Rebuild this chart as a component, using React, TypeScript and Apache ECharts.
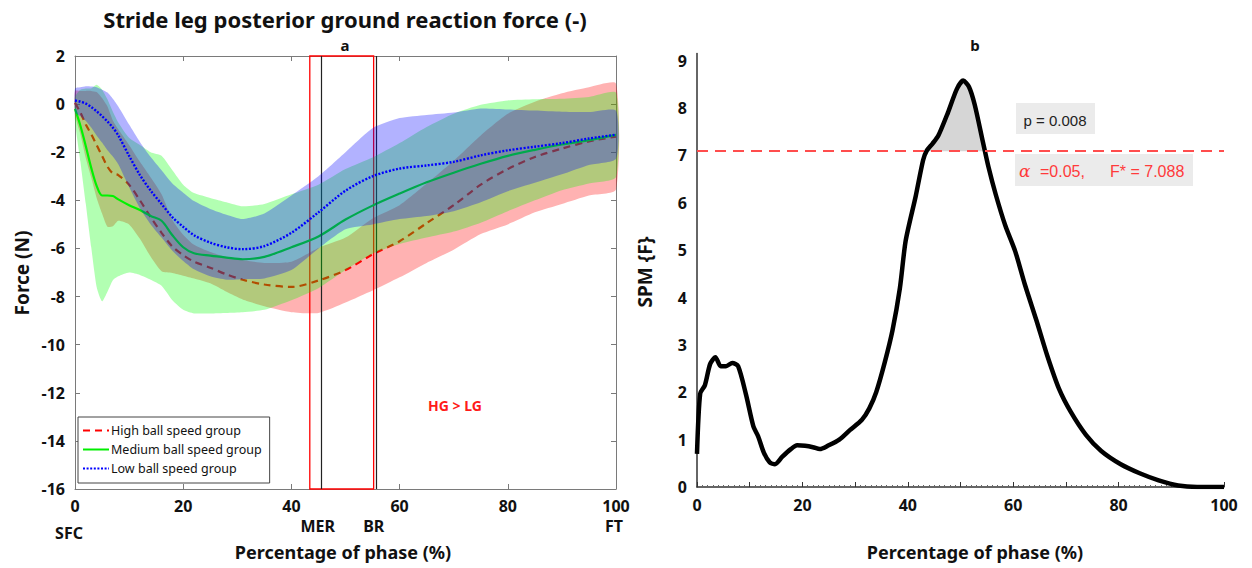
import React, { useEffect, useRef } from 'react';
import * as echarts from 'echarts';

// ---------- Panel a: stride leg posterior GRF (mean ± SD) ----------
const phase = [0, 1, 2, 3, 4, 5, 6, 7, 8, 10, 12, 14, 16, 18, 20, 22, 25, 28, 31, 35, 40, 45, 50, 55, 60, 65, 70, 75, 80, 85, 90, 95, 100];

const highMean = [0.05, -0.35, -0.85, -1.25, -1.7, -2.15, -2.6, -2.88, -2.95, -3.35, -4.0, -4.7, -5.35, -5.92, -6.28, -6.55, -6.8, -7.08, -7.3, -7.5, -7.6, -7.33, -6.9, -6.25, -5.7, -4.95, -4.2, -3.35, -2.7, -2.2, -1.85, -1.55, -1.35];
const highSD = [0.5, 0.9, 1.4, 1.8, 2.2, 2.4, 2.5, 2.2, 1.9, 1.65, 1.6, 1.65, 1.6, 1.1, 0.85, 0.7, 0.65, 0.72, 0.82, 0.9, 1.05, 1.35, 1.35, 1.5, 1.5, 1.65, 1.85, 2.05, 2.3, 2.3, 2.3, 2.25, 2.2];

const mediumMean = [-0.2, -0.9, -1.75, -2.65, -3.4, -3.8, -3.8, -3.82, -3.96, -4.2, -4.4, -4.65, -4.85, -5.45, -5.95, -6.2, -6.3, -6.38, -6.45, -6.35, -5.95, -5.5, -4.8, -4.22, -3.72, -3.25, -2.85, -2.48, -2.15, -1.9, -1.68, -1.5, -1.28];
const mediumSD = [0.5, 1.5, 2.4, 3.3, 4.2, 4.4, 4.0, 3.5, 3.2, 2.8, 2.7, 2.65, 2.7, 2.7, 2.6, 2.5, 2.4, 2.3, 2.2, 2.2, 2.2, 2.15, 2.1, 2.0, 2.1, 2.3, 2.45, 2.45, 2.3, 2.1, 1.9, 1.8, 1.75];

const lowMean = [0.15, 0.1, 0.02, -0.12, -0.3, -0.5, -0.72, -0.98, -1.3, -2.15, -2.95, -3.6, -4.15, -4.7, -5.1, -5.45, -5.76, -5.95, -6.03, -5.9, -5.35, -4.5, -3.6, -3.0, -2.68, -2.55, -2.4, -2.13, -1.92, -1.77, -1.62, -1.43, -1.27];
const lowSD = [0.5, 0.6, 0.72, 0.85, 1.0, 1.1, 1.2, 1.2, 1.2, 1.3, 1.38, 1.4, 1.4, 1.4, 1.42, 1.42, 1.4, 1.35, 1.25, 1.35, 1.55, 1.5, 1.6, 2.0, 2.1, 2.1, 2.05, 1.95, 1.7, 1.5, 1.3, 1.1, 1.0];

const groupNames = ['High ball speed group', 'Medium ball speed group', 'Low ball speed group'];
const eventNames = ['SFC', 'MER', 'BR', 'FT'];
const eventPhase = [0, 45.6, 55.6, 100];
const eventLines = [45.6, 55.6];
const sigWindow = [43.4, 55.2];

// ---------- Panel b: SPM {F} ----------
const spmPhase = [0, 0.6, 1.5, 2.5, 3.5, 4.5, 5.5, 6.7, 7.8, 9.3, 10.7, 11.6, 12.7, 13.8, 14.8, 16.2, 17.8, 19, 20.5, 22, 23.3, 25, 27, 29, 31.3, 32.7, 34, 35.6, 37.1, 38.5, 39.6, 41.5, 42.9, 43.6, 44.7, 45.8, 47.6, 49.3, 50.5, 51.6, 52.7, 54.2, 55.3, 56.7, 58.5, 60.4, 62.2, 64.4, 66.5, 68.7, 70.9, 73.8, 76.7, 80.4, 84, 87.6, 91.3, 94.9, 100];
const spmF = [0.7, 1.97, 2.15, 2.6, 2.74, 2.55, 2.55, 2.62, 2.55, 1.95, 1.28, 1.07, 0.72, 0.52, 0.48, 0.64, 0.8, 0.88, 0.87, 0.84, 0.8, 0.88, 1.0, 1.2, 1.42, 1.66, 2.0, 2.62, 3.31, 4.2, 5.2, 6.14, 6.9, 7.1, 7.25, 7.42, 7.9, 8.4, 8.58, 8.45, 8.07, 7.31, 6.76, 6.17, 5.52, 4.97, 4.28, 3.52, 2.76, 2.07, 1.59, 1.1, 0.76, 0.48, 0.29, 0.14, 0.03, 0, 0];
const fCritical = 7.088;
const alphaLevel = 0.05;
const pValue = 0.008;

const FONT = '"Noto Sans", "DejaVu Sans", sans-serif';

function bandSeries(mean: number[], sd: number[], color: string, z: number) {
  return {
    type: 'custom',
    xAxisIndex: 0,
    yAxisIndex: 0,
    silent: true,
    z,
    data: phase.map((x, i) => [x, mean[i] - sd[i], mean[i] + sd[i]]),
    encode: { x: 0, y: [1, 2] },
    renderItem: (params: any, api: any) => {
      if (params.dataIndex !== 0) return null;
      const pts: number[][] = [];
      for (let i = 0; i < phase.length; i++) pts.push(api.coord([phase[i], mean[i] + sd[i]]));
      for (let i = phase.length - 1; i >= 0; i--) pts.push(api.coord([phase[i], mean[i] - sd[i]]));
      return { type: 'polygon', shape: { points: pts, smooth: 0.2 }, style: { fill: color } };
    },
  };
}

function meanSeries(name: string, mean: number[], color: string, width: number, dash: any, z: number) {
  return {
    type: 'line',
    name,
    xAxisIndex: 0,
    yAxisIndex: 0,
    z,
    data: phase.map((x, i) => [x, mean[i]]),
    symbol: 'none',
    smooth: 0.3,
    lineStyle: { color, width, type: dash },
    itemStyle: { color },
  };
}

function sigPolygon() {
  const pts: number[][] = [];
  for (let i = 0; i < spmPhase.length; i++) {
    const f = spmF[i];
    if (i > 0) {
      const fp = spmF[i - 1];
      if ((fp < fCritical && f >= fCritical) || (fp >= fCritical && f < fCritical)) {
        const t = (fCritical - fp) / (f - fp);
        pts.push([spmPhase[i - 1] + t * (spmPhase[i] - spmPhase[i - 1]), fCritical]);
      }
    }
    if (f >= fCritical) pts.push([spmPhase[i], f]);
  }
  return pts;
}

export default function App() {
  const ref = useRef<HTMLDivElement>(null);
  useEffect(() => {
    const chart = echarts.init(ref.current!, null, { renderer: 'svg' });
    const sig = sigPolygon();
    const axisGrey = '#7a7a7a';
    const labelStyle = { color: '#111', fontSize: 16, fontWeight: 'bold' as const, fontFamily: FONT };
    const lineBox = (color: string, width: number) => ({ onZero: false, lineStyle: { color, width } });

    const option: any = {
      animation: false,
      backgroundColor: '#fff',
      grid: [
        { left: 75, right: 636, top: 56, bottom: 79 },
        { left: 697, right: 28, top: 53.6, bottom: 81 },
      ],
      legend: {
        data: groupNames,
        orient: 'vertical',
        left: 78,
        top: 417,
        z: 20,
        backgroundColor: '#fff',
        borderColor: '#444',
        borderWidth: 1,
        borderRadius: 0,
        padding: [7, 8, 8, 4],
        itemGap: 6,
        itemWidth: 26,
        itemHeight: 14,
        selectedMode: false,
        itemStyle: { color: 'rgba(0,0,0,0)', borderWidth: 0, opacity: 0 },
        textStyle: { fontSize: 12.5, color: '#111', fontFamily: FONT, padding: [0, 0, 0, -3] },
      },
      xAxis: [
        {
          gridIndex: 0, type: 'value', min: 0, max: 100, interval: 20, position: 'bottom',
          axisLine: lineBox(axisGrey, 1),
          axisTick: { inside: true, length: 5, lineStyle: { color: axisGrey } },
          axisLabel: { ...labelStyle, margin: 9 },
          splitLine: { show: false },
        },
        {
          gridIndex: 0, type: 'value', min: 0, max: 100, interval: 20, position: 'top',
          axisLine: lineBox(axisGrey, 1),
          axisTick: { inside: true, length: 5, lineStyle: { color: axisGrey } },
          axisLabel: { show: false },
          splitLine: { show: false },
        },
        {
          gridIndex: 1, type: 'value', min: 0, max: 100, interval: 10,
          axisLine: lineBox('#333', 1.5),
          axisTick: { inside: true, length: 5, lineStyle: { color: '#333' } },
          minorTick: { show: true, splitNumber: 10, length: 2, lineStyle: { color: '#666' } },
          axisLabel: { ...labelStyle, margin: 10, formatter: (v: number) => (v % 20 === 0 ? String(v) : '') },
          splitLine: { show: false },
        },
      ],
      yAxis: [
        {
          gridIndex: 0, type: 'value', min: -16, max: 2, interval: 2,
          axisLine: { show: true, ...lineBox(axisGrey, 1) },
          axisTick: { show: true, inside: true, length: 5, lineStyle: { color: axisGrey } },
          axisLabel: { ...labelStyle, margin: 10 },
          splitLine: { show: false },
        },
        {
          gridIndex: 0, type: 'value', min: -16, max: 2, interval: 2, position: 'right',
          axisLine: { show: true, ...lineBox(axisGrey, 1) },
          axisTick: { show: true, inside: true, length: 5, lineStyle: { color: axisGrey } },
          axisLabel: { show: false },
          splitLine: { show: false },
        },
        {
          gridIndex: 1, type: 'value', min: 0, max: 9.15, interval: 1,
          axisLine: { show: true, ...lineBox('#333', 1.5) },
          axisTick: { show: false },
          axisLabel: { ...labelStyle, margin: 10, showMaxLabel: false },
          splitLine: { show: false },
        },
      ],
      series: [
        meanSeries(groupNames[0], highMean, '#ff0000', 2.2, [7, 5], 2),
        bandSeries(highMean, highSD, 'rgba(255,0,0,0.3)', 3),
        meanSeries(groupNames[1], mediumMean, '#00ee00', 2.2, 'solid', 4),
        bandSeries(mediumMean, mediumSD, 'rgba(0,255,0,0.3)', 5),
        meanSeries(groupNames[2], lowMean, '#0000ff', 2.4, [2, 1.6], 6),
        bandSeries(lowMean, lowSD, 'rgba(0,0,255,0.3)', 7),
        {
          type: 'line', name: 'events', xAxisIndex: 0, yAxisIndex: 0, data: [], silent: true,
          z: 10,
          markArea: {
            silent: true,
            itemStyle: { color: 'rgba(0,0,0,0)', borderColor: '#ff0000', borderWidth: 1.3 },
            data: [[{ xAxis: sigWindow[0] }, { xAxis: sigWindow[1] }]],
          },
          markLine: {
            silent: true, symbol: ['none', 'none'], label: { show: false },
            lineStyle: { color: '#222', width: 1.2, type: 'solid' },
            data: eventLines.map((x) => ({ xAxis: x })),
          },
        },
        {
          type: 'custom', xAxisIndex: 2, yAxisIndex: 2, silent: true,
          data: sig,
          encode: { x: 0, y: 1 },
          renderItem: (params: any, api: any) => {
            if (params.dataIndex !== 0) return null;
            return {
              type: 'polygon',
              shape: { points: sig.map((p) => api.coord(p)) },
              style: { fill: '#d6d6d6' },
            };
          },
        },
        {
          type: 'line', name: 'SPM', xAxisIndex: 2, yAxisIndex: 2,
          data: spmPhase.map((x, i) => [x, spmF[i]]),
          symbol: 'none', smooth: 0.25,
          lineStyle: { color: '#000', width: 4.5 },
          markLine: {
            silent: true, symbol: ['none', 'none'], label: { show: false },
            lineStyle: { color: '#ff4d4d', width: 2, type: [11, 7] },
            data: [{ yAxis: fCritical }],
          },
        },
      ],
    };
    chart.setOption(option);

    const bottomPx = chart.convertToPixel({ yAxisIndex: 0 }, -16) as number;
    const evText = eventNames.map((n, i) => {
      const px = chart.convertToPixel({ xAxisIndex: 0 }, eventPhase[i]) as number;
      const first = i === 0;
      return {
        type: 'text',
        x: px + (first ? -6 : i === 1 ? -4 : -2),
        y: bottomPx + (first ? 44 : 37),
        style: { text: n, font: `bold 16px ${FONT}`, fill: '#111', textAlign: 'center', textVerticalAlign: 'middle' },
      };
    });

    const t = (text: string, x: number, y: number, font: string, fill = '#111', align = 'center', rotation = 0) => ({
      type: 'text', x, y, rotation,
      style: { text, font, fill, textAlign: align, textVerticalAlign: 'middle' },
    });

    chart.setOption({
      graphic: [
        t('Stride leg posterior ground reaction force (-)', 345, 19, `bold 22px ${FONT}`),
        t('a', 345, 45, `bold 15px ${FONT}`),
        t('b', 975, 45, `bold 15px ${FONT}`),
        t('Force (N)', 22, 273, `bold 19px ${FONT}`, '#111', 'center', Math.PI / 2),
        t('SPM {F}', 645, 272, `bold 19px ${FONT}`, '#111', 'center', Math.PI / 2),
        t('Percentage of phase (%)', 343, 552, `bold 18px ${FONT}`),
        t('Percentage of phase (%)', 975, 552, `bold 18px ${FONT}`),
        t('HG > LG', 455, 405, `bold 14px ${FONT}`, '#ff1a1a'),
        ...evText,
        { type: 'rect', shape: { x: 1016, y: 103, width: 79, height: 31 }, style: { fill: '#ebebeb' } },
        t(`p = ${pValue.toFixed(3)}`, 1055, 120, `15px "Liberation Sans", Arial, sans-serif`, '#222'),
        { type: 'rect', shape: { x: 1015, y: 154, width: 178, height: 32 }, style: { fill: '#ebebeb' } },
        t('\u03b1', 1019, 171, `italic 17px "DejaVu Serif", serif`, '#ff3a3a', 'left'),
        t(`=${alphaLevel.toFixed(2)},`, 1040, 171, `16px "Liberation Sans", Arial, sans-serif`, '#ff3a3a', 'left'),
        t(`F* = ${fCritical.toFixed(3)}`, 1110, 171, `16px "Liberation Sans", Arial, sans-serif`, '#ff3a3a', 'left'),
      ],
    });

    return () => chart.dispose();
  }, []);
  return <div ref={ref} style={{ position: 'absolute', left: 0, top: 0, width: 1252, height: 568 }} />;
}
